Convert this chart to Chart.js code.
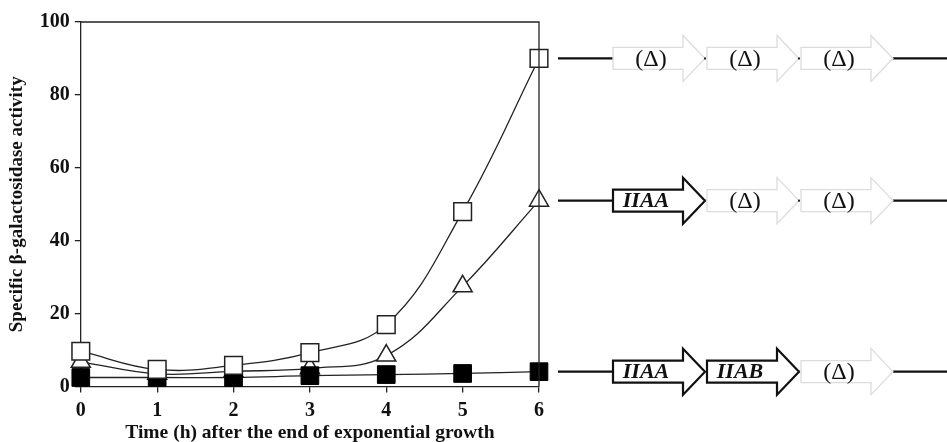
<!DOCTYPE html>
<html>
<head>
<meta charset="utf-8">
<script src="https://cdn.jsdelivr.net/npm/chart.js@4/dist/chart.umd.min.js"></script>
<style>
  html, body { margin: 0; padding: 0; background: #fff; }
  #wrap { width: 947px; height: 442px; position: relative; }
</style>
</head>
<body>
<div id="wrap"><canvas id="c"></canvas></div>
<script>
// Hours after the end of exponential growth
const hours = ['0', '1', '2', '3', '4', '5', '6'];

// Specific beta-galactosidase activity for each operon construct
const allDeleted   = [9.7, 4.7, 5.8, 9.3, 17, 48, 90];    // open squares
const iiaaOnly     = [6.8, 3.5, 4.2, 5, 8.5, 27.5, 51];   // open triangles
const iiaaAndIiab  = [2.5, 2.5, 2.5, 3, 3.3, 3.6, 4.1];   // filled squares

const yTicks = [0, 20, 40, 60, 80, 100];

// Gene content of the operon drawn beside each curve's end point
const geneRowAllDeleted  = ['(Δ)', '(Δ)', '(Δ)'];
const geneRowIiaa        = ['IIAA', '(Δ)', '(Δ)'];
const geneRowIiaaIiab    = ['IIAA', 'IIAB', '(Δ)'];

const SERIF = '"Liberation Serif", "Times New Roman", serif';

// Closed frame around the plot area
const framePlugin = {
  id: 'frame',
  afterDatasetsDraw(chart) {
    const { ctx, chartArea: a } = chart;
    ctx.save();
    ctx.strokeStyle = '#222';
    ctx.lineWidth = 1.3;
    ctx.beginPath();
    ctx.moveTo(a.left, a.top);
    ctx.lineTo(a.right, a.top);
    ctx.lineTo(a.right, a.bottom);
    ctx.stroke();
    ctx.restore();
  }
};

// Operon maps: a line, three gene arrows, and a line, placed at each curve's last value
const operonPlugin = {
  id: 'operons',
  afterDraw(chart) {
    const { ctx } = chart;
    const y = chart.scales.y;
    const rows = [
      { genes: geneRowAllDeleted, value: allDeleted[allDeleted.length - 1] },
      { genes: geneRowIiaa, value: iiaaOnly[iiaaOnly.length - 1] },
      { genes: geneRowIiaaIiab, value: iiaaAndIiab[iiaaAndIiab.length - 1] }
    ];
    const lineStart = 558, firstArrow = 613, pitch = 94, bodyLen = 70, tipLen = 22;
    const bodyHalf = 11, headHalf = 23;
    rows.forEach(row => {
      const cy = y.getPixelForValue(row.value);
      ctx.save();
      // flanking DNA lines
      ctx.strokeStyle = '#111';
      ctx.lineWidth = 2.2;
      ctx.beginPath();
      ctx.moveTo(lineStart, cy);
      ctx.lineTo(firstArrow, cy);
      const endX = firstArrow + 2 * pitch + bodyLen + tipLen;
      ctx.moveTo(endX, cy);
      ctx.lineTo(947, cy);
      ctx.stroke();

      row.genes.forEach((g, i) => {
        const x0 = firstArrow + i * pitch;
        const deleted = g === '(Δ)';
        if (deleted && i > 0) {
          // short remnant of the DNA line between deleted genes
          ctx.fillStyle = '#222';
          ctx.fillRect(x0 - 3, cy - 1, 2, 2);
        }
        ctx.beginPath();
        ctx.moveTo(x0, cy - bodyHalf);
        ctx.lineTo(x0 + bodyLen, cy - bodyHalf);
        ctx.lineTo(x0 + bodyLen, cy - headHalf);
        ctx.lineTo(x0 + bodyLen + tipLen, cy);
        ctx.lineTo(x0 + bodyLen, cy + headHalf);
        ctx.lineTo(x0 + bodyLen, cy + bodyHalf);
        ctx.lineTo(x0, cy + bodyHalf);
        ctx.closePath();
        ctx.fillStyle = '#fff';
        ctx.fill();
        ctx.lineJoin = 'miter';
        if (deleted) {
          ctx.strokeStyle = '#dcdcdc';
          ctx.lineWidth = 1.3;
        } else {
          ctx.strokeStyle = '#111';
          ctx.lineWidth = 2.2;
        }
        ctx.stroke();

        ctx.fillStyle = '#111';
        ctx.textBaseline = 'middle';
        ctx.textAlign = 'center';
        if (deleted) {
          ctx.font = '24px ' + SERIF;
          ctx.fillText(g, x0 + 38, cy + 1);
        } else {
          ctx.font = 'italic bold 22px ' + SERIF;
          ctx.fillText(g, x0 + 33, cy + 1);
        }
      });
      ctx.restore();
    });
  }
};

const lineColor = '#222';

new Chart(document.getElementById('c'), {
  type: 'line',
  data: {
    labels: hours,
    datasets: [
      {
        label: '(Δ)(Δ)(Δ)',
        data: allDeleted,
        borderColor: lineColor,
        borderWidth: 1.3,
        tension: 0.4,
        pointStyle: 'rect',
        pointRadius: 12.5,
        pointBackgroundColor: '#fff',
        pointBorderColor: lineColor,
        pointBorderWidth: 1.5,
        clip: false,
        order: 0
      },
      {
        label: 'IIAA IIAB (Δ)',
        data: iiaaAndIiab,
        borderColor: lineColor,
        borderWidth: 1.3,
        tension: 0.4,
        pointStyle: 'rect',
        pointRadius: 12.5,
        pointBackgroundColor: '#000',
        pointBorderColor: '#000',
        pointBorderWidth: 1,
        clip: false,
        order: 1
      },
      {
        label: 'IIAA (Δ)(Δ)',
        data: iiaaOnly,
        borderColor: lineColor,
        borderWidth: 1.3,
        tension: 0.4,
        pointStyle: 'triangle',
        pointRadius: 11,
        pointBackgroundColor: '#fff',
        pointBorderColor: lineColor,
        pointBorderWidth: 1.5,
        clip: false,
        order: 2
      }
    ]
  },
  options: {
    responsive: true,
    maintainAspectRatio: false,
    animation: false,
    events: [],
    layout: { padding: { left: 6, right: 408, top: 22, bottom: 0 } },
    plugins: {
      legend: { display: false },
      tooltip: { enabled: false }
    },
    scales: {
      x: {
        type: 'category',
        offset: false,
        grid: { display: true, drawOnChartArea: false, drawTicks: true, tickLength: 6, color: '#222', lineWidth: 1.3 },
        border: { display: true, color: '#222', width: 1.3 },
        ticks: { color: '#111', font: { family: SERIF, size: 20, weight: 'bold' }, padding: 6, maxRotation: 0 },
        title: {
          display: true,
          text: 'Time (h) after the end of exponential growth',
          color: '#111',
          font: { family: SERIF, size: 19.5, weight: 'bold' },
          padding: { top: -7, bottom: -3 }
        }
      },
      y: {
        min: 0,
        max: 100,
        afterBuildTicks(axis) { axis.ticks = yTicks.map(v => ({ value: v })); },
        grid: { display: true, drawOnChartArea: false, drawTicks: true, tickLength: 6, color: '#222', lineWidth: 1.3 },
        border: { display: true, color: '#222', width: 1.3 },
        ticks: { color: '#111', font: { family: SERIF, size: 20, weight: 'bold' }, padding: 5 },
        title: {
          display: true,
          text: 'Specific β-galactosidase activity',
          color: '#111',
          font: { family: SERIF, size: 19, weight: 'bold' },
          padding: { top: 0, bottom: 6 }
        }
      }
    }
  },
  plugins: [framePlugin, operonPlugin]
});
</script>
</body>
</html>
